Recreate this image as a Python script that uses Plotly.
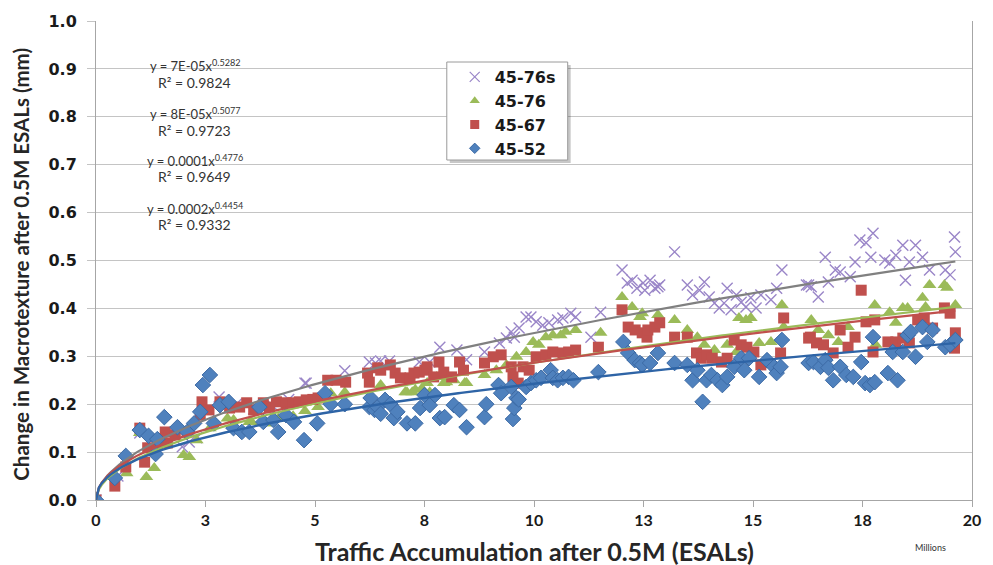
import numpy as np
import plotly.graph_objects as go

# ---------------- data (traffic in millions of ESALs, change in macrotexture in mm) -------------
series_names = ["45-76s", "45-76", "45-67", "45-52"]

x_76s = [0, 0.5, 1.0, 1.3, 1.6, 1.97, 2.13, 2.3, 2.81, 3.2, 3.6, 4.0, 4.4, 4.77, 4.8, 5.68, 6.24, 6.38,
         6.5, 6.7, 7.38, 7.62, 7.85, 8.24, 8.46, 8.87, 9.21, 9.37, 9.48, 9.55, 9.66, 9.82, 9.93, 10.05,
         10.2, 10.34, 10.54, 10.66, 10.84, 10.95, 11.3, 11.52, 12.01, 12.13, 12.24, 12.35, 12.49, 12.53,
         12.65, 12.76, 12.83, 12.87, 13.21, 13.5, 13.62, 13.78, 13.89, 14.0, 14.12, 14.23, 14.34, 14.41,
         14.5, 14.62, 14.73, 14.84, 14.95, 15.07, 15.18, 15.41, 15.54, 15.66, 16.22, 16.27, 16.33, 16.49,
         16.65, 16.72, 16.88, 16.99, 17.22, 17.33, 17.44, 17.58, 17.69, 17.74, 18.01, 18.12, 18.26, 18.42,
         18.48, 18.57, 18.71, 18.87, 19.03, 19.39, 19.5, 19.6, 19.62]
y_76s = [0, 0.05, 0.14, 0.12, 0.13, 0.111, 0.121, 0.13, 0.215, 0.2, 0.19, 0.2, 0.21, 0.244, 0.244, 0.27,
         0.288, 0.286, 0.29, 0.29, 0.288, 0.288, 0.319, 0.313, 0.293, 0.309, 0.328, 0.338, 0.351, 0.34,
         0.359, 0.382, 0.382, 0.372, 0.365, 0.37, 0.376, 0.38, 0.39, 0.382, 0.34, 0.392, 0.48, 0.453, 0.459,
         0.442, 0.453, 0.438, 0.459, 0.442, 0.445, 0.449, 0.518, 0.449, 0.428, 0.438, 0.455, 0.424, 0.411,
         0.401, 0.411, 0.442, 0.397, 0.428, 0.413, 0.403, 0.422, 0.401, 0.428, 0.418, 0.442, 0.48, 0.449,
         0.449, 0.445, 0.424, 0.507, 0.455, 0.48, 0.476, 0.466, 0.497, 0.543, 0.537, 0.507, 0.557, 0.501,
         0.495, 0.511, 0.532, 0.459, 0.497, 0.532, 0.507, 0.48, 0.48, 0.47, 0.549, 0.518]

x_76 = [0, 0.7, 1.0, 1.15, 1.33, 1.6, 2.0, 2.13, 2.3, 2.6, 3.0, 3.14, 3.5, 3.55, 3.87, 3.9, 4.16, 4.5,
        4.77, 5.07, 5.1, 5.36, 5.68, 6.5, 7.06, 7.1, 7.22, 7.29, 7.44, 7.56, 7.62, 7.78, 7.94, 8.0, 8.17,
        8.42, 8.46, 8.87, 9.14, 9.37, 9.6, 9.82, 9.98, 10.11, 10.27, 10.43, 10.61, 10.72, 10.95, 11.52,
        12.01, 12.24, 12.42, 12.47, 12.83, 13.21, 13.5, 13.73, 13.89, 14.12, 14.41, 14.62, 14.68, 14.84,
        14.95, 15.14, 15.41, 15.66, 15.7, 16.33, 16.49, 16.72, 16.95, 17.17, 17.78, 17.8, 18.12, 18.26,
        18.42, 18.53, 18.87, 18.94, 19.03, 19.37, 19.43, 19.62]
y_76 = [0, 0.056, 0.14, 0.048, 0.067, 0.12, 0.094, 0.09, 0.125, 0.15, 0.17, 0.167, 0.163, 0.163, 0.16,
        0.16, 0.17, 0.175, 0.186, 0.194, 0.213, 0.223, 0.225, 0.24, 0.225, 0.225, 0.225, 0.23, 0.233,
        0.244, 0.225, 0.257, 0.244, 0.246, 0.25, 0.244, 0.244, 0.261, 0.271, 0.282, 0.299, 0.309, 0.33,
        0.324, 0.34, 0.344, 0.344, 0.351, 0.355, 0.349, 0.424, 0.403, 0.382, 0.39, 0.386, 0.376, 0.355,
        0.34, 0.324, 0.313, 0.324, 0.309, 0.38, 0.376, 0.38, 0.328, 0.33, 0.407, 0.361, 0.376, 0.355,
        0.344, 0.33, 0.361, 0.407, 0.324, 0.392, 0.37, 0.401, 0.401, 0.422, 0.403, 0.449, 0.449, 0.443,
        0.407]

x_67 = [0, 0.43, 0.68, 1.0, 1.11, 1.18, 1.4, 1.58, 1.63, 1.81, 2.08, 2.38, 2.42, 2.58, 2.83, 3.05, 3.28,
        3.44, 3.6, 3.82, 3.96, 4.12, 4.34, 4.5, 4.64, 4.8, 4.95, 5.07, 5.29, 5.48, 5.7, 6.2, 6.24, 6.43,
        6.5, 6.72, 6.83, 6.95, 7.17, 7.26, 7.38, 7.51, 7.56, 7.71, 7.83, 7.94, 8.12, 8.3, 8.39, 8.87,
        9.07, 9.25, 9.48, 9.52, 9.64, 9.75, 9.89, 10.05, 10.27, 10.43, 10.66, 10.79, 10.95, 11.47,
        12.01, 12.15, 12.31, 12.47, 12.58, 12.6, 12.76, 12.87, 13.21, 13.5, 13.71, 13.82, 13.94, 14.07,
        14.28, 14.41, 14.57, 14.73, 14.86, 15.02, 15.18, 15.63, 15.7, 16.27, 16.31, 16.45, 16.61, 16.83,
        16.99, 17.17, 17.33, 17.47, 17.58, 17.74, 17.78, 18.08, 18.26, 18.42, 18.57, 18.76, 18.91, 19.1,
        19.37, 19.5, 19.6, 19.62]
y_67 = [0, 0.029, 0.069, 0.15, 0.079, 0.109, 0.115, 0.142, 0.119, 0.136, 0.142, 0.177, 0.205, 0.188,
        0.205, 0.192, 0.194, 0.203, 0.188, 0.203, 0.194, 0.205, 0.203, 0.203, 0.205, 0.209, 0.21, 0.213,
        0.25, 0.25, 0.246, 0.265, 0.246, 0.276, 0.271, 0.282, 0.265, 0.255, 0.255, 0.265, 0.267, 0.271,
        0.278, 0.257, 0.288, 0.267, 0.257, 0.288, 0.271, 0.286, 0.299, 0.303, 0.278, 0.257, 0.244, 0.278,
        0.271, 0.299, 0.303, 0.309, 0.307, 0.309, 0.313, 0.319, 0.397, 0.361, 0.355, 0.349, 0.34, 0.355,
        0.361, 0.37, 0.34, 0.34, 0.307, 0.296, 0.303, 0.296, 0.288, 0.296, 0.334, 0.324, 0.319, 0.309,
        0.282, 0.307, 0.38, 0.338, 0.34, 0.328, 0.324, 0.307, 0.355, 0.319, 0.34, 0.438, 0.372, 0.309,
        0.376, 0.33, 0.33, 0.338, 0.328, 0.376, 0.38, 0.359, 0.401, 0.39, 0.317, 0.349]

x_52 = [0, 0.43, 0.68, 1.0, 1.2, 1.36, 1.4, 1.56, 1.86, 2.08, 2.24, 2.38, 2.44, 2.6, 2.69, 2.83, 3.03,
        3.14, 3.33, 3.5, 3.73, 3.82, 4.05, 4.16, 4.34, 4.52, 4.75, 5.05, 5.23, 5.36, 5.68, 6.24, 6.27,
        6.36, 6.43, 6.5, 6.6, 6.72, 6.8, 6.88, 7.1, 7.29, 7.4, 7.5, 7.62, 7.74, 7.85, 7.96, 8.17, 8.3,
        8.46, 8.87, 8.91, 9.19, 9.25, 9.48, 9.52, 9.55, 9.6, 9.65, 9.82, 9.93, 10.05, 10.16, 10.38,
        10.43, 10.54, 10.66, 10.79, 10.9, 11.47, 12.04, 12.15, 12.3, 12.42, 12.47, 12.65, 12.83, 13.21,
        13.5, 13.62, 13.73, 13.85, 13.94, 14.05, 14.19, 14.3, 14.41, 14.57, 14.73, 14.8, 14.91, 15.14,
        15.32, 15.48, 15.54, 15.63, 15.66, 16.27, 16.38, 16.54, 16.65, 16.72, 16.83, 16.99, 17.13,
        17.29, 17.47, 17.56, 17.67, 17.74, 17.78, 18.08, 18.19, 18.3, 18.42, 18.53, 18.6, 18.71, 18.87,
        18.98, 19.1, 19.39, 19.5, 19.62]
y_52 = [0, 0.046, 0.092, 0.146, 0.134, 0.096, 0.127, 0.173, 0.152, 0.142, 0.16, 0.184, 0.24, 0.261,
        0.16, 0.198, 0.205, 0.15, 0.142, 0.142, 0.194, 0.163, 0.167, 0.142, 0.177, 0.163, 0.125, 0.16,
        0.223, 0.2, 0.2, 0.194, 0.213, 0.188, 0.194, 0.18, 0.209, 0.2, 0.171, 0.184, 0.16, 0.16, 0.192,
        0.219, 0.198, 0.219, 0.171, 0.173, 0.198, 0.188, 0.152, 0.173, 0.2, 0.24, 0.223, 0.236, 0.169,
        0.192, 0.213, 0.21, 0.236, 0.244, 0.25, 0.255, 0.271, 0.255, 0.25, 0.255, 0.257, 0.25, 0.267,
        0.33, 0.307, 0.292, 0.286, 0.282, 0.286, 0.307, 0.286, 0.282, 0.25, 0.271, 0.205, 0.25, 0.261,
        0.25, 0.24, 0.257, 0.278, 0.296, 0.271, 0.296, 0.257, 0.292, 0.278, 0.265, 0.278, 0.334, 0.286,
        0.288, 0.278, 0.292, 0.276, 0.25, 0.278, 0.261, 0.257, 0.288, 0.244, 0.24, 0.34, 0.246, 0.265,
        0.309, 0.25, 0.309, 0.344, 0.351, 0.299, 0.361, 0.33, 0.355, 0.319, 0.324, 0.334]

# power trend lines y = a * x^b (x in ESALs), labels as printed on the chart
trend_a = [7.0e-5, 8.0e-5, 1.3e-4, 1.85e-4]
trend_b = [0.5282, 0.5077, 0.4776, 0.4454]
eq_labels = ["y = 7E-05x<sup>0.5282</sup>", "y = 8E-05x<sup>0.5077</sup>",
             "y = 0.0001x<sup>0.4776</sup>", "y = 0.0002x<sup>0.4454</sup>"]
r2_labels = ["R² = 0.9824", "R² = 0.9723", "R² = 0.9649", "R² = 0.9332"]

x_ticks = [0, 2.5, 5, 7.5, 10, 12.5, 15, 17.5, 20]
x_ticktext = ["0", "3", "5", "8", "10", "13", "15", "18", "20"]

# ---------------- figure ----------------
W, H = 993, 565
ML, MR, MT, MB = 96, 13, 21, 65
PW, PH = W - ML - MR, H - MT - MB

def px_x(p):  # pixel -> paper x
    return (p - ML) / PW

def px_y(p):  # pixel -> paper y
    return (H - MB - p) / PH

fig = go.Figure()

symbols = ["x-thin", "triangle-up", "square", "diamond"]
colors = ["#9A86C8", "#9BBB59", "#C0504D", "#4F81BD"]
outline = ["#9A86C8", "#9BBB59", "#C0504D", "#3C6AA5"]
outline_w = [1.4, 0, 0, 1]
sizes = [11, 12, 11, 12]
legend_sizes = [10, 9, 9, 8]

data_x = [x_76s, x_76, x_67, x_52]
data_y = [y_76s, y_76, y_67, y_52]

for name, xs, ys, s, c, oc, ow, sz in zip(series_names, data_x, data_y, symbols, colors, outline,
                                          outline_w, sizes):
    fig.add_trace(go.Scatter(x=xs, y=ys, mode="markers", name=name, showlegend=False,
                             marker=dict(symbol=s, size=sz, color=c, line=dict(color=oc, width=ow))))

trend_colors = ["#808080", "#9BBB59", "#C0504D", "#2E64A6"]
trend_widths = [2.2, 2.2, 2.2, 2.4]
for a, b, c, w, xs in zip(trend_a, trend_b, trend_colors, trend_widths, data_x):
    xe = np.linspace(0, max(xs), 300)
    yt = a * (xe * 1e6) ** b
    fig.add_trace(go.Scatter(x=xe, y=yt, mode="lines", line=dict(color=c, width=w),
                             showlegend=False, hoverinfo="skip"))

# legend entries (smaller symbols, as in the original legend)
for name, s, c, oc, ow, sz in zip(series_names, symbols, colors, outline, outline_w, legend_sizes):
    fig.add_trace(go.Scatter(x=[None], y=[None], mode="markers", name=name,
                             marker=dict(symbol=s, size=sz, color=c,
                                         line=dict(color=oc, width=min(ow, 1.2)))))

annotations = []
eq_py = [65, 113, 160, 208]
r2_py = [83, 130, 177, 224]
for eq, r2, py1, py2 in zip(eq_labels, r2_labels, eq_py, r2_py):
    annotations.append(dict(x=px_x(196), y=px_y(py1), xref="paper", yref="paper", text=eq,
                            showarrow=False, xanchor="center", yanchor="middle",
                            font=dict(family="Lato, sans-serif", size=13, color="#333333")))
    annotations.append(dict(x=px_x(195), y=px_y(py2), xref="paper", yref="paper", text=r2,
                            showarrow=False, xanchor="center", yanchor="middle",
                            font=dict(family="Lato, sans-serif", size=14, color="#333333")))

annotations.append(dict(x=px_x(538), y=px_y(551), xref="paper", yref="paper",
                        text="<b>Traffic Accumulation after 0.5M (ESALs)</b>", showarrow=False,
                        xanchor="center", yanchor="middle",
                        font=dict(family="Lato, sans-serif", size=25, color="#262626")))
annotations.append(dict(x=px_x(20), y=px_y(264), xref="paper", yref="paper",
                        text="<b>Change in Macrotexture after 0.5M ESALs (mm)</b>", showarrow=False,
                        textangle=-90, xanchor="center", yanchor="middle",
                        font=dict(family="Lato, sans-serif", size=20.5, color="#262626")))
annotations.append(dict(x=px_x(938), y=px_y(547), xref="paper", yref="paper", text="Millions",
                        showarrow=False, xanchor="center", yanchor="middle",
                        font=dict(family="Lato, sans-serif", size=9, color="#333333")))

# legend frame with drop shadow
shapes = [
    dict(type="rect", xref="paper", yref="paper", x0=px_x(453), x1=px_x(575), y0=px_y(163), y1=px_y(65),
         fillcolor="rgba(0,0,0,0.22)", line=dict(width=0), layer="above"),
    dict(type="rect", xref="paper", yref="paper", x0=px_x(450), x1=px_x(572), y0=px_y(160), y1=px_y(62),
         fillcolor="white", line=dict(color="#9A9A9A", width=1), layer="above"),
]

fig.update_layout(
    width=W, height=H,
    margin=dict(l=ML, r=MR, t=MT, b=MB),
    paper_bgcolor="white", plot_bgcolor="white",
    showlegend=True,
    legend=dict(x=px_x(458), y=px_y(60), xanchor="left", yanchor="top",
                bgcolor="rgba(0,0,0,0)", borderwidth=0,
                font=dict(family="DejaVu Sans", size=16, color="#1a1a1a", weight="bold"),
                tracegroupgap=0),
    xaxis=dict(range=[0, 20], tickvals=x_ticks, ticktext=x_ticktext, showgrid=False, zeroline=False,
               showline=True, linecolor="#A6A6A6", linewidth=1, ticks="outside", ticklen=6,
               tickcolor="#A6A6A6",
               tickfont=dict(family="Lato, sans-serif", size=16, color="#1a1a1a", weight="bold")),
    yaxis=dict(range=[0, 1], dtick=0.1, tickformat=".1f", showgrid=True, gridcolor="#C4C4C4",
               gridwidth=1, zeroline=False, showline=True, linecolor="#A6A6A6", linewidth=1,
               mirror=True, ticks="outside", ticklen=8, tickcolor="#C4C4C4", ticklabelstandoff=7,
               tickfont=dict(family="DejaVu Sans", size=16, color="#1a1a1a", weight="bold")),
    annotations=annotations,
    shapes=shapes,
)

fig.write_html("out.html", config={"displayModeBar": False},
               post_script="document.body.style.margin='0px';document.body.style.padding='0px';")
